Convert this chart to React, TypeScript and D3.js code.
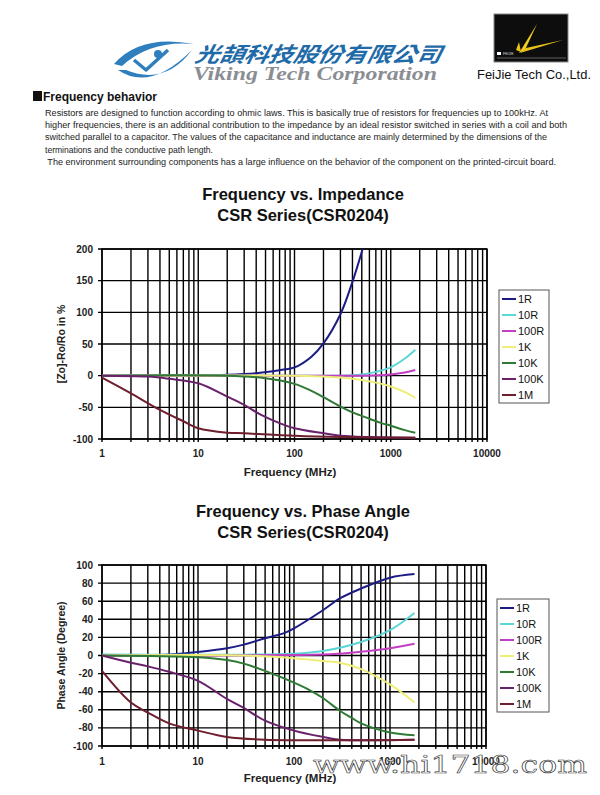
import React from "react";
import * as d3 from "d3";

// ---------- DATA ----------
const seriesNames = ["1R", "10R", "100R", "1K", "10K", "100K", "1M"];
const seriesColors = ["#1c1c84", "#5cd6d6", "#c23ec2", "#eeee78", "#2f7a34", "#6a216c", "#6e1e2c"];

// Impedance deviation [freq MHz, %]
const imp1R = [[1, 0], [10, 0.5], [20, 1.5], [40, 4], [60, 7], [80, 10], [100, 13], [150, 30], [200, 51], [300, 97], [400, 148], [510, 200]];
const imp10R = [[1, 0], [100, 0], [300, 0], [500, 2], [700, 6], [1000, 13], [1400, 27], [1800, 41]];
const imp100R = [[1, 0], [100, 0], [500, 0], [1000, 2], [1400, 5], [1800, 9]];
const imp1K = [[1, 0], [100, 0], [200, -1.5], [300, -3], [500, -7], [700, -11], [1000, -17], [1400, -26], [1800, -35]];
const imp10K = [[1, 0], [20, 0], [50, -4], [100, -13], [150, -24], [200, -34], [300, -49], [400, -58], [600, -68], [800, -75], [1000, -79], [1400, -86], [1800, -90]];
const imp100K = [[1, 0], [3, -1.5], [5, -5], [10, -12], [20, -33], [30, -46], [45, -62], [70, -75], [100, -83], [200, -91], [300, -95], [600, -97], [1800, -98]];
const imp1M = [[1, -3], [2, -28], [4, -54], [7, -72], [10, -83], [20, -90], [30, -91], [100, -95], [300, -97], [1800, -98]];
const impSeries = [imp1R, imp10R, imp100R, imp1K, imp10K, imp100K, imp1M];

// Phase angle [freq MHz, degree]
const ph1R = [[1, 0], [5, 1], [10, 4], [20, 8], [30, 12], [50, 19], [80, 25], [100, 30], [200, 50], [300, 63], [500, 74], [1000, 86], [1800, 90]];
const ph10R = [[1, 1], [100, 2], [200, 5], [500, 15], [1000, 28], [1800, 47]];
const ph100R = [[1, 0], [200, 1], [300, 2], [600, 5], [1000, 8], [1800, 13]];
const ph1K = [[1, 0], [30, 0], [100, -3], [200, -6], [300, -8], [500, -15], [1000, -32], [1800, -52]];
const ph10K = [[1, 0], [10, -2], [20, -5], [30, -9], [50, -17], [100, -30], [150, -39], [200, -47], [300, -61], [400, -69], [500, -75], [1000, -85], [1800, -88]];
const ph100K = [[1, 0], [2, -8], [3, -12], [5, -18], [10, -28], [20, -48], [30, -58], [50, -72], [100, -83], [200, -90], [300, -93], [1800, -93]];
const ph1M = [[1, -17], [2, -52], [3, -63], [5, -75], [10, -83], [20, -90], [50, -93], [1800, -93]];
const phSeries = [ph1R, ph10R, ph100R, ph1K, ph10K, ph100K, ph1M];

const xTickLabels = [1, 10, 100, 1000, 10000];
const impTicks = [200, 150, 100, 50, 0, -50, -100];
const phTicks = [100, 80, 60, 40, 20, 0, -20, -40, -60, -80, -100];

const paragraph = [
  "Resistors are designed to function according to ohmic laws. This is basically true of resistors for frequencies up to 100kHz. At",
  "higher frequencies, there is an additional contribution to the impedance by an ideal resistor switched in series with a coil and both",
  "switched parallel to a capacitor. The values of the capacitance and inductance are mainly determined by the dimensions of the",
  "terminations and the conductive path length.",
  " The environment surrounding components has a large influence on the behavior of the component on the printed-circuit board.",
];
const paraWidths = [503, 522, 502, 168, 511];

const FONT = "Arial, 'Liberation Sans', Helvetica, sans-serif";

type ChartProps = {
  title1: string;
  title2: string;
  titleY: number;
  ylabel: string;
  yDomain: [number, number];
  yRange: [number, number];
  yTicks: number[];
  xRange: [number, number];
  data: number[][][];
  legendX: number;
  legendY: number;
  legendW: number;
  legendStep: number;
  xLabelY: number;
  xTitleY: number;
};

function Chart(p: ChartProps) {
  const x = d3.scaleLog().domain([1, 10000]).range(p.xRange);
  const y = d3.scaleLinear().domain(p.yDomain).range(p.yRange);
  const gridX: number[] = [];
  for (let k = 0; k < 4; k++) for (let m = 1; m < 10; m++) gridX.push(m * Math.pow(10, k));
  gridX.push(10000);
  const line = d3
    .line<number[]>()
    .x((d) => x(d[0]))
    .y((d) => y(d[1]))
    .curve(d3.curveCatmullRom.alpha(0.5));
  const [yTop, yBot] = [y(p.yDomain[1]), y(p.yDomain[0])];
  const [xL, xR] = p.xRange;
  const ylabelCenter = (yTop + yBot) / 2;
  return (
    <g>
      <text x={303} y={p.titleY} textAnchor="middle" fontFamily={FONT} fontWeight="bold" fontSize={16.5} fill="#111">
        {p.title1}
      </text>
      <text x={303} y={p.titleY + 21} textAnchor="middle" fontFamily={FONT} fontWeight="bold" fontSize={16.5} fill="#111">
        {p.title2}
      </text>
      {/* grid */}
      {gridX.map((v, i) => (
        <line key={"gx" + i} x1={x(v)} x2={x(v)} y1={yTop} y2={yBot + 3} stroke="#000" strokeWidth={1.4} />
      ))}
      {p.yTicks.map((v, i) => (
        <line key={"gy" + i} x1={xL - 4} x2={xR} y1={y(v)} y2={y(v)} stroke="#000" strokeWidth={1.4} />
      ))}
      <rect x={xL} y={yTop} width={xR - xL} height={yBot - yTop} fill="none" stroke="#000" strokeWidth={1.4} />
      {/* series */}
      {p.data.map((s, i) => (
        <path key={"s" + i} d={line(s) || ""} fill="none" stroke={seriesColors[i]} strokeWidth={2} />
      ))}
      {/* y tick labels */}
      {p.yTicks.map((v, i) => (
        <text key={"yl" + i} x={xL - 9} y={y(v) + 3.5} textAnchor="end" fontFamily={FONT} fontWeight="bold" fontSize={10} fill="#222">
          {v}
        </text>
      ))}
      {xTickLabels.map((v, i) => (
        <text key={"xl" + i} x={x(v)} y={p.xLabelY} textAnchor="middle" fontFamily={FONT} fontWeight="bold" fontSize={10} fill="#222">
          {v}
        </text>
      ))}
      <text x={290} y={p.xTitleY} textAnchor="middle" fontFamily={FONT} fontWeight="bold" fontSize={11.5} fill="#222">
        Frequency (MHz)
      </text>
      <text
        transform={`translate(65,${ylabelCenter}) rotate(-90)`}
        textAnchor="middle"
        fontFamily={FONT}
        fontWeight="bold"
        fontSize={10.5}
        fill="#222"
      >
        {p.ylabel}
      </text>
      {/* legend */}
      <rect
        x={p.legendX}
        y={p.legendY}
        width={p.legendW}
        height={p.legendStep * 7 + 1}
        fill="#fff"
        stroke="#555"
        strokeWidth={1}
      />
      {seriesNames.map((n, i) => {
        const cy = p.legendY + 9 + i * p.legendStep;
        return (
          <g key={"lg" + i}>
            <line x1={p.legendX + 3} x2={p.legendX + 17} y1={cy} y2={cy} stroke={seriesColors[i]} strokeWidth={2} />
            <text x={p.legendX + 19} y={cy + 4} fontFamily={FONT} fontSize={11} fill="#111">
              {n}
            </text>
          </g>
        );
      })}
    </g>
  );
}

function Header() {
  return (
    <g>
      {/* Viking logo swoosh */}
      <path d="M114,64 Q140,34 194,44 Q150,40 122,66 Z" fill="#2f7fbe" />
      <path d="M118,70 Q150,92 192,50 Q165,86 126,70 Z" fill="#2f7fbe" />
      <path d="M134,60 L146,70 L168,50" fill="none" stroke="#2f7fbe" strokeWidth={3.5} strokeLinejoin="round" />
      <circle cx={158} cy={54} r={4} fill="#2f7fbe" />
      <text
        x={194}
        y={62}
        fontFamily="'Noto Sans CJK TC', 'Noto Sans CJK SC', sans-serif"
        fontWeight="bold"
        fontStyle="italic"
        fontSize={21}
        fill="#1f6aa8"
        textLength={246}
        lengthAdjust="spacingAndGlyphs"
        transform="skewX(-12) translate(13,0)"
      >
        光頡科技股份有限公司
      </text>
      <text
        x={193}
        y={80}
        fontFamily="'Liberation Serif', 'DejaVu Serif', serif"
        fontWeight="bold"
        fontStyle="italic"
        fontSize={18}
        fill="#8a8e93"
        textLength={244}
        lengthAdjust="spacingAndGlyphs"
      >
        Viking Tech Corporation
      </text>
      {/* FeiJie logo */}
      <rect x={494} y={14} width={74} height={48} fill="#0d0d0d" stroke="#888" strokeWidth={1} />
      <polygon points="519,53 537,24 525,50" fill="#f0cc1e" />
      <polygon points="520,53 563,40 526,48" fill="#e8c21a" />
      <polygon points="516,50 519,42 521,52" fill="#e8c21a" />
      <line x1={497} y1={58} x2={566} y2={58} stroke="#777" strokeWidth={0.8} />
      <rect x={497} y={52} width={4} height={3} fill="#fff" />
      <text x={503} y={55} fontFamily={FONT} fontSize={3.5} fill="#ddd">FEIJIE</text>
      <text x={477} y={79} fontFamily={FONT} fontSize={12} fill="#111" textLength={114} lengthAdjust="spacingAndGlyphs">
        FeiJie Tech Co.,Ltd.
      </text>
      {/* Section heading */}
      <rect x={33} y={91} width={9} height={10} fill="#111" />
      <text x={43} y={101} fontFamily={FONT} fontWeight="bold" fontSize={12} fill="#111">
        Frequency behavior
      </text>
      {paragraph.map((t, i) => (
        <text
          key={"p" + i}
          x={45}
          y={116 + i * 12.2}
          fontFamily={FONT}
          fontSize={8.4}
          fill="#222"
          textLength={paraWidths[i]}
          lengthAdjust="spacingAndGlyphs"
          xmlSpace="preserve"
        >
          {t}
        </text>
      ))}
    </g>
  );
}

export default function App() {
  return (
    <svg
      width={600}
      height={795}
      style={{ position: "absolute", left: 0, top: 0, background: "#fff" }}
      xmlns="http://www.w3.org/2000/svg"
    >
      <rect width={600} height={795} fill="#fff" />
      <Header />
      <Chart
        title1="Frequency vs. Impedance"
        title2="CSR Series(CSR0204)"
        titleY={200}
        ylabel="[Zo]-Ro/Ro in %"
        yDomain={[-100, 200]}
        yRange={[439, 249]}
        yTicks={impTicks}
        xRange={[102, 487]}
        data={impSeries}
        legendX={499}
        legendY={290}
        legendW={50}
        legendStep={16}
        xLabelY={457}
        xTitleY={476}
      />
      <Chart
        title1="Frequency vs. Phase Angle"
        title2="CSR Series(CSR0204)"
        titleY={517}
        ylabel="Phase Angle (Degree)"
        yDomain={[-100, 100]}
        yRange={[746, 565]}
        yTicks={phTicks}
        xRange={[102, 486]}
        data={phSeries}
        legendX={497}
        legendY={599}
        legendW={52}
        legendStep={16}
        xLabelY={765}
        xTitleY={782}
      />
      {/* watermark */}
      <text
        x={313}
        y={773}
        fontFamily="'DejaVu Serif', 'Liberation Serif', serif"
        fontSize={24}
        fill="#fff"
        stroke="#333"
        strokeWidth={0.6}
        textLength={274}
        lengthAdjust="spacingAndGlyphs"
      >
        www.hi1718.com
      </text>
    </svg>
  );
}
